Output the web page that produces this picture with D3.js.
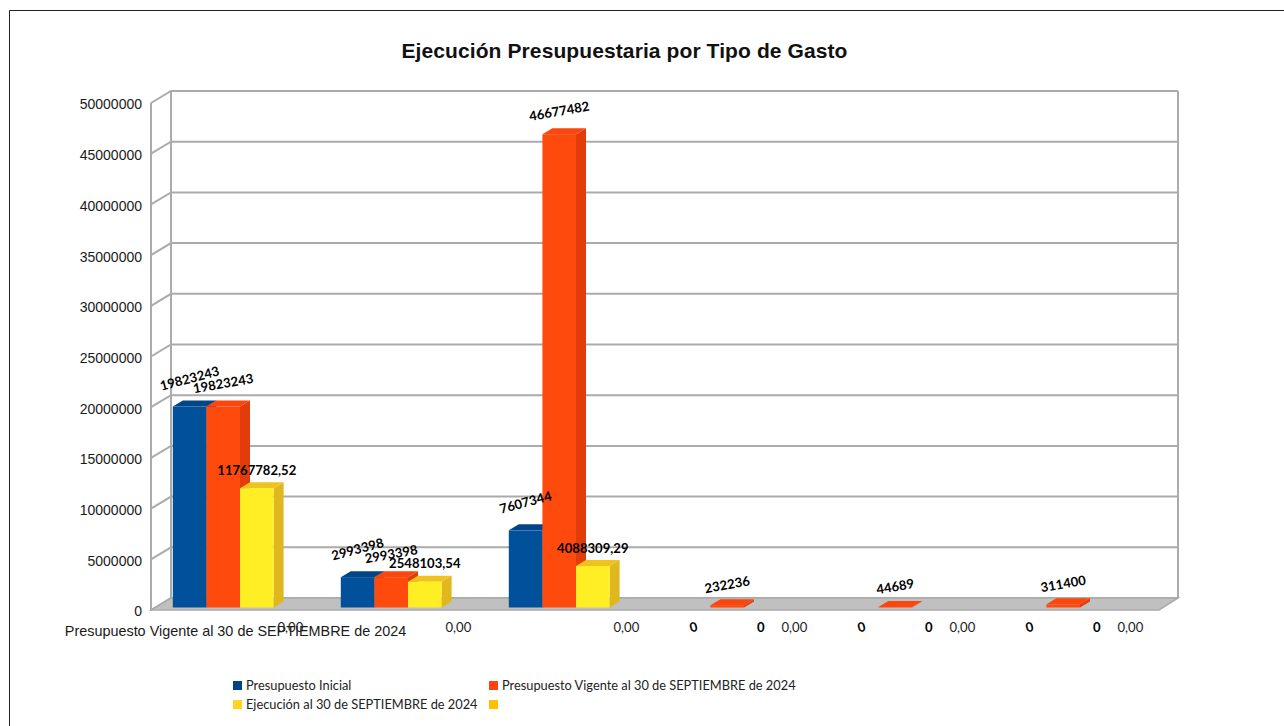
<!DOCTYPE html>
<html>
<head>
<meta charset="utf-8">
<script src="https://cdn.jsdelivr.net/npm/d3@7"></script>
<style>
  html, body { margin:0; padding:0; background:#fff; overflow:hidden; }
  svg { display:block; }
  .axis text { font-family:"Liberation Sans"; font-size:14px; fill:#1a1a1a; }
  .catlabel text { font-family:"Liberation Sans"; font-size:14.4px; fill:#1a1a1a; }
  .dlabel { font-family:Lato; font-size:13.1px; font-weight:700; fill:#000; }
  .dlabel.plain { font-weight:400; fill:#222; }
  .legend text { font-family:Lato; font-size:12.8px; fill:#222; }
</style>
</head>
<body>
<svg id="chart" width="1284" height="726"></svg>
<script>
const title = "Ejecución Presupuestaria por Tipo de Gasto";
const categories = ["Presupuesto Vigente al 30 de SEPTIEMBRE de 2024", " ", "  ", "   ", "    ", "     "];
const serie_names = ["Presupuesto Inicial", "Presupuesto Vigente al 30 de SEPTIEMBRE de 2024", "Ejecución al 30 de SEPTIEMBRE de 2024", ""];
const inicial  = [19823243, 2993398, 7607344, 0, 0, 0];
const vigente  = [19823243, 2993398, 46677482, 232236, 44689, 311400];
const ejecucion = [11767782.52, 2548103.54, 4088309.29, 0, 0, 0];
const cuarta   = [0, 0, 0, 0, 0, 0];
const yTicks = [0, 5000000, 10000000, 15000000, 20000000, 25000000, 30000000, 35000000, 40000000, 45000000, 50000000];

// front, side, top faces for each series
const faceColors = [
  {front:"#00509a", side:"#003f78", top:"#004585"},
  {front:"#ff4a0e", side:"#e23c0a", top:"#fb470d"},
  {front:"#ffee24", side:"#e0b81e", top:"#f0c31c"},
  {front:"#ffc000", side:"#d9a300", top:"#e6ad00"}
];
const legendColors = ["#004586", "#ff420e", "#ffd320", "#ffc000"];

const svg = d3.select("#chart");

// outer frame
svg.append("path").attr("d", "M9.5,726V10.5H1284").attr("fill", "none").attr("stroke", "#222").attr("stroke-width", 1);

svg.append("text")
  .attr("x", 624.5).attr("y", 58)
  .attr("text-anchor", "middle")
  .style("font-family", "Liberation Sans").style("font-size", "21px").style("font-weight", "700")
  .style("letter-spacing", "0.1px").style("fill", "#111")
  .text(title);

// 3d box offsets
const wallDx = 20, wallDy = -12;
const barDx = 10, barDy = -6;

const y = d3.scaleLinear().domain([0, 50000000]).range([610, 103]);
const x0 = d3.scaleBand().domain(categories).range([151, 1159]);
const x1 = d3.scaleBand().domain(d3.range(4)).range([21.8, 156.2]);
const barBase = -2.5;   // bars stand a bit inside the floor

const grid = "#ababab";
const floorG = svg.append("g");

// back wall and side wall lines
const wall = svg.append("g").attr("fill", "none").attr("stroke", grid).attr("stroke-width", 2);
yTicks.forEach(t => {
  wall.append("path").attr("d", `M151,${y(t)}L${151 + wallDx},${y(t) + wallDy}H1178`);
});
wall.append("path").attr("d", `M151,${y(0)}V${y(50000000)}`);
wall.append("path").attr("d", `M${151 + wallDx},${y(0) + wallDy}V${y(50000000) + wallDy}`);
wall.append("path").attr("d", `M1178,${y(0) + wallDy}V${y(50000000) + wallDy}`);

// floor
floorG.raise();
floorG.append("path")
  .attr("d", `M151,${y(0)}H1159L1178,${y(0) + wallDy}H${151 + wallDx}Z`)
  .attr("fill", "#c0c0c0").attr("stroke", "#aaa").attr("stroke-width", 1.5);

const axis = d3.axisLeft(y).tickValues(yTicks).tickFormat(d3.format("d")).tickSize(0).tickPadding(9);
svg.append("g").attr("class", "axis").attr("transform", "translate(151,1.5)").call(axis)
  .call(g => g.select(".domain").remove());

svg.append("g").attr("class", "catlabel").selectAll("text")
  .data(categories).join("text")
  .attr("x", d => x0(d) + x0.bandwidth() / 2 + 0.5)
  .attr("y", 636)
  .attr("text-anchor", "middle")
  .text(d => d.trim());

// bars
const series = [inicial, vigente, ejecucion, cuarta];
const bars = svg.append("g");
series.forEach((vals, s) => {
  const c = faceColors[s];
  const g = bars.append("g");
  vals.forEach((v, i) => {
    if (!v) return;
    const xl = x0(categories[i]) + x1(s), w = x1.bandwidth();
    const yb = y(0) + barBase, yt = y(v) + barBase;
    g.append("path").attr("fill", c.side)
      .attr("d", `M${xl + w},${yt}l${barDx},${barDy}V${yb + barDy}L${xl + w},${yb}Z`);
    g.append("path").attr("fill", c.top)
      .attr("d", `M${xl},${yt}l${barDx},${barDy}h${w}l${-barDx},${-barDy}Z`);
    g.append("rect").attr("fill", c.front)
      .attr("x", xl).attr("y", yt).attr("width", w).attr("height", yb - yt);
  });
});

// data labels
const labelRotate = [-15, -10, 0, 0];
const labelLift = [28, 23, 18, 18];
function fmt(v, s) {
  if (s === 3) return v.toFixed(2).replace(".", ",");
  return Number.isInteger(v) ? String(v) : v.toFixed(2).replace(".", ",");
}
const labels = svg.append("g");
series.forEach((vals, s) => {
  vals.forEach((v, i) => {
    const cx = x0(categories[i]) + x1(s) + x1.bandwidth() / 2;
    const small = v > 0 && v < 1000000;
    const cy = v === 0 ? y(0) + barBase + 19.5 : y(v) + barBase - (small ? 20.5 : labelLift[s]);
    labels.append("text")
      .attr("class", s === 3 ? "dlabel plain" : "dlabel")
      .attr("text-anchor", "middle")
      .attr("dy", "0.35em")
      .attr("transform", `translate(${cx},${cy}) rotate(${labelRotate[s]})`)
      .text(fmt(v, s));
  });
});

// legend
const legendPos = [[233, 686], [489, 686], [233, 705], [489, 705]];
const legend = svg.append("g").attr("class", "legend");
serie_names.forEach((name, i) => {
  const [lx, ly] = legendPos[i];
  legend.append("rect").attr("x", lx).attr("y", ly - 5).attr("width", 9).attr("height", 9).attr("fill", legendColors[i]);
  legend.append("text").attr("x", lx + 13).attr("y", ly).attr("dy", "0.35em").text(name);
});
</script>
</body>
</html>
